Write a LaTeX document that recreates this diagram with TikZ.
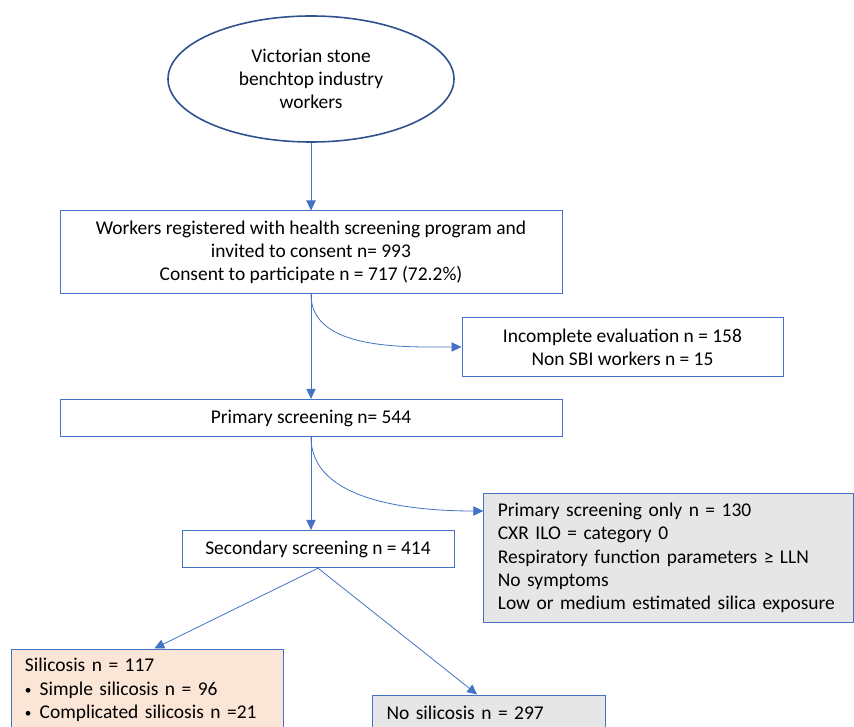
\documentclass[tikz,border=0pt]{standalone}
\usepackage{fontspec}
\setmainfont{Carlito}
\usetikzlibrary{shapes.geometric,arrows.meta}

\definecolor{boxblue}{HTML}{4472C4}
\definecolor{ovalblue}{HTML}{2F528F}
\definecolor{greyfill}{HTML}{E7E6E6}
\definecolor{peachfill}{HTML}{FBE5D6}

\newcommand{\smallbullet}{\makebox[11pt][l]{\fontsize{10pt}{0pt}\selectfont\raisebox{0.5pt}{\textbullet}}}

\tikzset{
	flowbox/.style={draw=boxblue, line width=0.75pt, inner sep=0pt, align=center,
		font=\fontsize{14.6pt}{17.4pt}\selectfont},
	notebox/.style={flowbox, align=left},
	flowarrow/.style={boxblue, line width=0.6pt, -{Triangle[length=7.5pt,width=7pt]}}
}

\begin{document}
\begin{tikzpicture}[x=0.75pt,y=-0.75pt]

		\useasboundingbox (0,0) rectangle (854,727);
		\clip (0,0) rectangle (854,727);

		\node[ellipse, draw=ovalblue, line width=1.2pt, minimum width=214.5pt, minimum height=94.5pt, align=center,
			font=\fontsize{14.6pt}{17pt}\selectfont] (workers) at (311,79)
			{Victorian stone\\benchtop industry\\workers};

		\node[flowbox, minimum width=376.5pt, minimum height=62.25pt] (registered) at (311,252.5)
			{Workers registered with health screening program and\\invited to consent n= 993\\Consent to participate n = 717 (72.2\%)};
		\node[flowbox, minimum width=240.75pt, minimum height=44.5pt] (excluded) at (622.5,347)
			{Incomplete evaluation n = 158\\Non SBI workers n = 15};
		\node[flowbox, minimum width=376.5pt, minimum height=28pt] (primary) at (311,418)
			{Primary screening n= 544};
		\node[notebox, fill=greyfill, minimum width=277pt, minimum height=96.75pt, text width=256pt] (primonly) at (668.5,558)
			{Primary screening only n = 130\\CXR ILO = category 0\\Respiratory function parameters ≥ LLN\\No symptoms\\Low or medium estimated silica exposure};
		\node[flowbox, minimum width=204pt, minimum height=28pt] (secondary) at (318,549)
			{Secondary screening n = 414};
		\node[notebox, fill=peachfill, minimum width=204pt, minimum height=61.5pt, text width=183pt] (silicosis) at (147,690)
			{Silicosis n = 117\\\smallbullet Simple silicosis n = 96\\\smallbullet Complicated silicosis n =21};
		\node[notebox, fill=greyfill, minimum width=174.75pt, minimum height=27pt, text width=153pt] (nosilicosis) at (488.5,713)
			{No silicosis n = 297};

		\draw[flowarrow] (workers) to (registered);
		\draw[flowarrow] (registered) to (primary);
		\draw[flowarrow] (registered.south) to[out=-90, in=180, looseness=0.9] (excluded.west);
		\draw[flowarrow] (primary) to (secondary.north -| primary.south);
		\draw[flowarrow] (primary.south) to[out=-90, in=180, looseness=0.9] ([yshift=-13.5pt]primonly.north west);
		\draw[flowarrow] (secondary.south) to ([xshift=5.5pt]silicosis.north);
		\draw[flowarrow] (secondary.south) to ([xshift=-8.5pt]nosilicosis.north);

	\end{tikzpicture}
\end{document}
